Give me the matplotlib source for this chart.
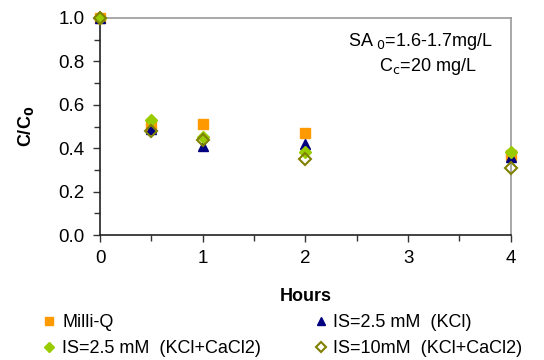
import matplotlib
matplotlib.use("Agg")
import matplotlib.pyplot as plt

plt.rcParams['font.family'] = ['Liberation Sans', 'DejaVu Sans']

hours = [0, 0.5, 1, 2, 4]
milliq = [1.0, 0.50, 0.51, 0.47, 0.37]
is25_kcl = [1.0, 0.49, 0.41, 0.42, 0.36]
is25_kcl_cacl2 = [1.0, 0.53, 0.45, 0.385, 0.385]
is10_kcl_cacl2 = [1.0, 0.48, 0.44, 0.35, 0.31]

labels = ["Milli-Q", "IS=2.5 mM  (KCl)", "IS=2.5 mM  (KCl+CaCl2)", "IS=10mM  (KCl+CaCl2)"]

fig = plt.figure(figsize=(5.44, 3.6), dpi=100)
ax = fig.add_axes([0.184, 0.347, 0.755, 0.603])

h1, = ax.plot(hours, milliq, 's', color='#FF9900', markersize=7, linestyle='none', zorder=3, clip_on=False)
h2, = ax.plot(hours, is25_kcl, '^', color='#000080', markersize=7.5, linestyle='none', zorder=4, clip_on=False)
h3, = ax.plot(hours, is25_kcl_cacl2, 'D', color='#99CC00', markersize=6.5, linestyle='none', zorder=5, clip_on=False)
h4, = ax.plot(hours, is10_kcl_cacl2, 'D', markerfacecolor='none', markeredgecolor='#808000',
              markeredgewidth=1.5, markersize=6, linestyle='none', zorder=6, clip_on=False)

ax.set_xlim(0, 4)
ax.set_ylim(0, 1.0)
ax.set_xticks([0, 1, 2, 3, 4])
ax.set_xticks([0.5, 1.5, 2.5, 3.5], minor=True)
ax.set_yticks([0.0, 0.2, 0.4, 0.6, 0.8, 1.0])
ax.set_yticks([0.1, 0.3, 0.5, 0.7, 0.9], minor=True)
ax.set_yticklabels(['0.0', '0.2', '0.4', '0.6', '0.8', '1.0'])
ax.tick_params(axis='both', which='major', labelsize=13.5, length=5, width=1, color='#333333', pad=6)
ax.tick_params(axis='both', which='minor', length=4, width=1, color='#333333')

for s in ['left', 'bottom']:
    ax.spines[s].set_color('#222222')
    ax.spines[s].set_linewidth(1.2)
for s in ['top', 'right']:
    ax.spines[s].set_color('#999999')
    ax.spines[s].set_linewidth(1.2)

ax.set_xlabel('Hours', fontsize=13, fontweight='bold', labelpad=15)
ax.set_ylabel('C/C$_\\mathbf{0}$', fontsize=13, fontweight='bold', labelpad=16)

ax.text(0.78, 0.835, 'SA$_{\\ 0}$=1.6-1.7mg/L\n   C$_\\mathrm{c}$=20 mg/L', transform=ax.transAxes,
        ha='center', va='center', fontsize=13, linespacing=1.25)

leg = fig.legend([h1, h3, h2, h4], [labels[0], labels[2], labels[1], labels[3]],
                 ncol=2, loc='upper left', bbox_to_anchor=(0.081, 0.128), frameon=False,
                 borderaxespad=0, borderpad=0,
                 fontsize=13, handlelength=0.6, handletextpad=0.4, columnspacing=3.0,
                 labelspacing=0.5, markerscale=0.8)

fig.savefig('out.png', dpi=100)
